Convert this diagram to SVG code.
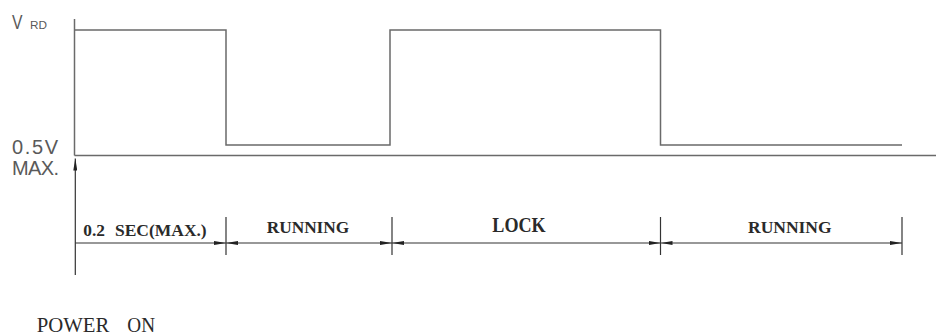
<svg xmlns="http://www.w3.org/2000/svg" width="936" height="336" viewBox="0 0 936 336">
<style>
.wave{fill:none;stroke:#6a6a6a;stroke-width:1.5}
.dim{fill:none;stroke:#333;stroke-width:1.2}
.tick{stroke:#333;stroke-width:1.2}
.sans{font-family:"Liberation Sans",Arial,sans-serif;fill:#5a5a5a}
.lbl{font-family:"Liberation Serif","Times New Roman",serif;font-weight:bold;fill:#2a2a2a}
.reg{font-family:"Liberation Serif","Times New Roman",serif;fill:#2a2a2a}
</style>
<defs>
<marker id="ah" viewBox="0 0 12 4" refX="12" refY="2" markerWidth="12" markerHeight="4" markerUnits="userSpaceOnUse" orient="auto-start-reverse">
<path d="M0,0 L12,2 L0,4 z" fill="#222"/>
</marker>
</defs>
<g id="waveform">
<line class="wave" x1="74.5" y1="19" x2="74.5" y2="155.5"/>
<line class="wave" x1="74.5" y1="155.5" x2="936" y2="155.5"/>
<path class="wave" d="M74.5,30 H226 V145 H390 V30 H660.5 V145 H902"/>
</g>
<g id="labels">
<text class="sans" x="12" y="28.8" font-size="21" textLength="10.5" lengthAdjust="spacingAndGlyphs">V</text>
<text class="sans" x="30" y="29.3" font-size="11" textLength="17" lengthAdjust="spacingAndGlyphs">RD</text>
<text class="sans" x="12" y="154" font-size="20" textLength="46">0.5V</text>
<text class="sans" x="12" y="175" font-size="20" textLength="47">MAX.</text>
</g>
<g id="connectors">
<line class="dim" x1="75.3" y1="275" x2="75.3" y2="158.5" marker-end="url(#ah)"/>
<line class="dim" x1="75.3" y1="243" x2="226" y2="243" marker-end="url(#ah)"/>
<line class="dim" x1="226" y1="243" x2="392" y2="243" marker-start="url(#ah)" marker-end="url(#ah)"/>
<line class="dim" x1="392" y1="243" x2="660.5" y2="243" marker-start="url(#ah)" marker-end="url(#ah)"/>
<line class="dim" x1="660.5" y1="243" x2="902" y2="243" marker-start="url(#ah)" marker-end="url(#ah)"/>
<line class="tick" x1="226" y1="217" x2="226" y2="255"/>
<line class="tick" x1="392" y1="217" x2="392" y2="255"/>
<line class="tick" x1="660.5" y1="217" x2="660.5" y2="255"/>
<line class="tick" x1="902" y1="217" x2="902" y2="255" stroke="#777" stroke-width="2"/>
</g>
<g id="seg-power">
<text class="lbl" x="83.3" y="235.7" font-size="16.5" textLength="21.7" lengthAdjust="spacingAndGlyphs">0.2</text>
<text class="lbl" x="115" y="235.7" font-size="16.5" textLength="91.7" lengthAdjust="spacingAndGlyphs">SEC(MAX.)</text>
</g>
<g id="seg-running1">
<text class="lbl" x="266.7" y="233.3" font-size="17.5" textLength="82.6" lengthAdjust="spacingAndGlyphs">RUNNING</text>
</g>
<g id="seg-lock">
<text class="lbl" x="492.3" y="231.7" font-size="21.5" textLength="53.4" lengthAdjust="spacingAndGlyphs">LOCK</text>
</g>
<g id="seg-running2">
<text class="lbl" x="748" y="233.3" font-size="17.5" textLength="83.6" lengthAdjust="spacingAndGlyphs">RUNNING</text>
</g>
<g id="power-on">
<text class="reg" x="36.7" y="331.7" font-size="21.5" textLength="72.6" lengthAdjust="spacingAndGlyphs">POWER</text>
<text class="reg" x="127.3" y="331.7" font-size="21.5" textLength="27.7" lengthAdjust="spacingAndGlyphs">ON</text>
</g>
</svg>
